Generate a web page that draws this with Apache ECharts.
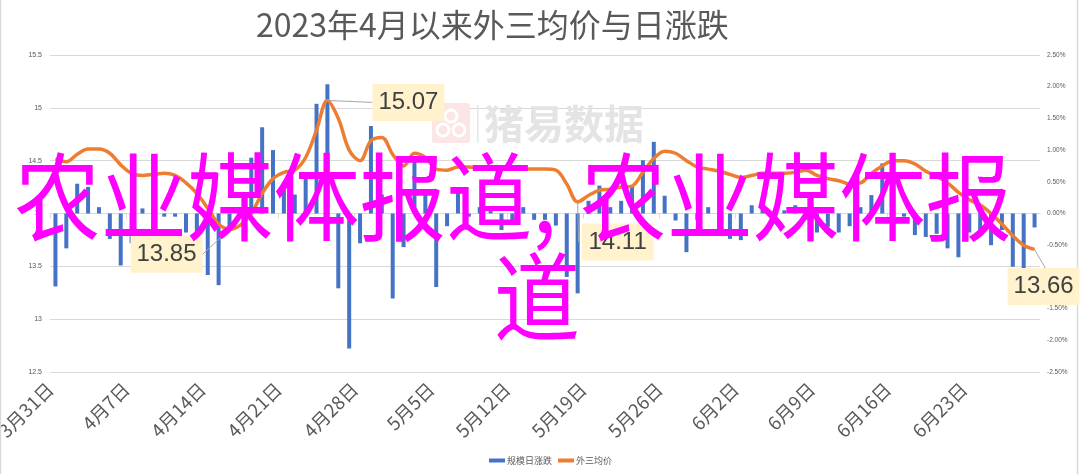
<!DOCTYPE html>
<html><head><meta charset="utf-8">
<script src="https://cdn.jsdelivr.net/npm/echarts@6.0.0/dist/echarts.min.js"></script>
<style>html,body{margin:0;padding:0;background:#fff}#c{width:1080px;height:474px}</style>
</head><body><div id="c"></div>
<script>
// ---- data ----
const titleText = '2023年4月以来外三均价与日涨跌';
const firstDay = '2023-03-31';           // day index 0
const tickLabels = ['3月31日','4月7日','4月14日','4月21日','4月28日','5月5日','5月12日','5月19日','5月26日','6月2日','6月9日','6月16日','6月23日'];
const seriesNames = ['规模日涨跌','外三均价'];
// daily change (%), one per calendar day from 3/31 to 6/29
const dailyChange = [
  -1.15,-0.55,0.47,0.42,0.10,-0.40,-0.82,-0.47,0.08,0.08,
  -0.05,-0.05,-0.30,-0.50,-0.97,-1.13,-0.20,0.08,0.88,1.36,
  1.00,0.50,0.30,0.65,1.73,2.04,-1.18,-2.13,-0.47,1.38,
  0.30,-1.34,-0.53,0.84,0.30,-1.16,-0.20,0.37,-0.05,0.10,
  0.11,-0.26,-0.13,0.10,-0.10,-0.10,-0.19,-1.00,-1.26,0.20,
  0.44,0.10,0.20,0.42,0.84,1.13,0.28,-0.11,-0.61,-0.10,
  0.10,-0.20,-0.40,-0.42,0.13,0.10,-0.05,0.05,0.13,-0.10,
  -0.30,-0.21,-0.30,-0.20,0.10,0.29,0.79,0.30,-0.05,-0.34,
  -0.37,-0.32,-0.55,-0.69,-0.30,-0.30,-0.50,-0.26,-0.84,-0.90,
  -0.22
];
// 外三均价 (yuan/kg)
const avgPrice = [
  14.52,14.49,14.56,14.61,14.61,14.57,14.46,14.38,14.36,14.37,
  14.38,14.36,14.29,14.19,14.05,13.90,13.85,13.89,14.00,14.19,
  14.33,14.39,14.41,14.53,14.79,15.07,14.90,14.60,14.50,14.69,
  14.72,14.56,14.45,14.57,14.53,14.42,14.41,14.44,14.44,14.43,
  14.43,14.43,14.42,14.42,14.42,14.42,14.41,14.28,14.11,14.17,
  14.22,14.23,14.25,14.26,14.39,14.52,14.59,14.57,14.50,14.44,
  14.42,14.40,14.37,14.34,14.36,14.38,14.38,14.38,14.39,14.41,
  14.36,14.33,14.31,14.28,14.29,14.38,14.45,14.50,14.50,14.47,
  14.40,14.35,14.29,14.20,14.13,14.08,14.00,13.90,13.79,13.70,
  13.66
];
// callouts: day index and shown text
const calloutDays = [25, 16, 48, 90];
const calloutTexts = ['15.07','13.85','14.11','13.66'];
const overlayParts = ['农业媒体报道,', '农业媒体报', '道'];   // caption "农业媒体报道,农业媒体报道" as laid out
const watermarkText = '猪易数据';

// ---- build ----
const barData = dailyChange.map((v,i)=>[i+0.5, v]);
const lineData = avgPrice.map((v,i)=>[i+0.5, v]);
const axisColor = '#595959';
const cjk = '"Noto Sans CJK SC", "Liberation Sans", sans-serif';

const chart = echarts.init(document.getElementById('c'));
const option = {
  animation: false,
  backgroundColor: '#fff',
  title: {text: titleText, left: 251, top: 4,
    textStyle: {fontFamily: cjk, fontSize: 32, fontWeight: 'normal', color: '#595959'}},
  legend: {bottom: 4, left: 484, itemGap: 6, itemWidth: 16, itemHeight: 4,
    textStyle: {fontFamily: cjk, fontSize: 9, color: axisColor, padding: [0,0,0,-3]},
    data: [{name: seriesNames[0], icon: 'rect'}, {name: seriesNames[1], icon: 'rect'}]},
  grid: {left: 50, right: 40, top: 55, height: 317, outerBoundsMode: 'none', containLabel: false},
  xAxis: {type: 'value', min: 0, max: 91, interval: 7,
    axisLine: {show: true, lineStyle: {color: '#D9D9D9', width: 1}},
    axisTick: {show: true, length: 5, lineStyle: {color: '#D9D9D9'}},
    splitLine: {show: false},
    axisLabel: {rotate: 45, margin: 14, color: axisColor, fontFamily: cjk, fontSize: 18.5,
      showMaxLabel: false,
      formatter: v => tickLabels[Math.round(v/7)] || ''}},
  yAxis: [
    {type: 'value', min: 12.5, max: 15.5, interval: 0.5,
      axisLine: {show: false}, axisTick: {show: false},
      splitLine: {lineStyle: {color: '#D9D9D9', width: 1}},
      axisLabel: {color: axisColor, fontSize: 7, margin: 8, fontFamily: '"Liberation Sans", sans-serif'}},
    {type: 'value', min: -2.5, max: 2.5, interval: 0.5, position: 'right',
      axisLine: {show: false}, axisTick: {show: false}, splitLine: {show: false},
      axisLabel: {color: axisColor, fontSize: 6.5, margin: 7, fontFamily: '"Liberation Sans", sans-serif',
        formatter: v => v.toFixed(2) + '%'}}
  ],
  series: [
    {name: seriesNames[0], type: 'bar', yAxisIndex: 1, data: barData, barWidth: 4,
      itemStyle: {color: '#4472C4'}, z: 2},
    {name: seriesNames[1], type: 'line', yAxisIndex: 0, data: lineData, showSymbol: false,
      symbol: 'none', smooth: 0.35, lineStyle: {color: '#ED7D31', width: 3.5}, itemStyle: {color: '#ED7D31'}, z: 3}
  ]
};
chart.setOption(option);

// callout boxes (positions derived from the chart's own scales)
const boxOffset = [[81, 2], [-63, 25], [40, 40], [9, 37]];      // box centre relative to point
const leaderEnd = [[-36, 0], [36, 0], [-39, 0], [2, -18]];       // leader end relative to box centre
const BW = 72, BH = 37;
const gfx = [];
// watermark
gfx.push({type: 'group', left: 432, top: 103, z: 0, children: [
  {type: 'rect', shape: {x: 0, y: 0, width: 38, height: 40, r: 3}, style: {fill: '#FBE5E5'}},
  {type: 'circle', shape: {cx: 19, cy: 13, r: 6}, style: {fill: 'none', stroke: '#fff', lineWidth: 3}},
  {type: 'circle', shape: {cx: 11, cy: 27, r: 6}, style: {fill: 'none', stroke: '#fff', lineWidth: 3}},
  {type: 'circle', shape: {cx: 27, cy: 27, r: 6}, style: {fill: 'none', stroke: '#fff', lineWidth: 3}},
  {type: 'rect', shape: {x: 45, y: 2, width: 1.5, height: 38}, style: {fill: '#E6E6E6'}},
  {type: 'text', x: 52, y: 1, style: {text: watermarkText, font: 'bold 40px "Noto Sans CJK SC"', fill: '#E4E4E4'}}
]});
calloutDays.forEach((d, k) => {
  const p = chart.convertToPixel({xAxisIndex: 0, yAxisIndex: 0}, [d + 0.5, avgPrice[d]]);
  const cx = p[0] + boxOffset[k][0], cy = p[1] + boxOffset[k][1];
  gfx.push({type: 'line', z: 50, shape: {x1: p[0], y1: p[1], x2: cx + leaderEnd[k][0], y2: cy + leaderEnd[k][1]},
    style: {stroke: '#A6A6A6', lineWidth: 1}});
  gfx.push({type: 'rect', z: 51, shape: {x: cx - BW/2, y: cy - BH/2, width: BW, height: BH},
    style: {fill: '#FFF2CC'}});
  gfx.push({type: 'text', z: 52, x: cx, y: cy, style: {text: calloutTexts[k], font: '24px "Liberation Sans"',
    fill: '#404040', align: 'center', verticalAlign: 'middle'}});
});
// overlay caption
const capFont = '96px "Noto Sans CJK SC"';
gfx.push({type: 'text', z: 100, x: 14, y: 147, scaleX: 0.9, style: {text: overlayParts[0], font: capFont, fill: '#FF00FF', align: 'left', verticalAlign: 'top', lineHeight: 100}});
gfx.push({type: 'text', z: 100, x: 1012, y: 147, scaleX: 0.9, style: {text: overlayParts[1], font: capFont, fill: '#FF00FF', align: 'right', verticalAlign: 'top', lineHeight: 100}});
gfx.push({type: 'text', z: 100, x: 537, y: 247, scaleX: 0.9, style: {text: overlayParts[2], font: capFont, fill: '#FF00FF', align: 'center', verticalAlign: 'top', lineHeight: 100}});
// chart frame edges
gfx.push({type: 'line', z: 1, shape: {x1: 0.5, y1: 0, x2: 0.5, y2: 474}, style: {stroke: '#D9D9D9', lineWidth: 1.5}});
gfx.push({type: 'line', z: 1, shape: {x1: 1077.5, y1: 0, x2: 1077.5, y2: 474}, style: {stroke: '#D9D9D9', lineWidth: 1.5}});
chart.setOption({graphic: gfx});
</script></body></html>
